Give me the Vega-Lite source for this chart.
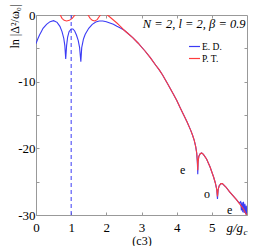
{
  "$schema": "https://vega.github.io/schema/vega-lite/v6.json",
  "autosize": "none",
  "width": 211,
  "height": 200,
  "padding": {"left": 36, "top": 15, "right": 26, "bottom": 31},
  "config": {
    "font": "Liberation Serif",
    "view": {"stroke": null},
    "axis": {"grid": false, "domainColor": "#999999", "tickColor": "#999999", "labelColor": "#000000", "labelFont": "Liberation Serif", "titleFont": "Liberation Serif", "titleFontWeight": "normal", "labelFontSize": 13, "titleFontSize": 12, "titleColor": "#000000", "tickSize": -3}
  },
  "datasets": {
    "curves": [
      {"s": "E. D.", "x": 0, "y": -4.3}, {"s": "E. D.", "x": 0.05, "y": -3.6}, {"s": "E. D.", "x": 0.1, "y": -3.0}, {"s": "E. D.", "x": 0.15, "y": -2.5}, {"s": "E. D.", "x": 0.2, "y": -2.0}, {"s": "E. D.", "x": 0.3, "y": -1.4}, {"s": "E. D.", "x": 0.4, "y": -1.0}, {"s": "E. D.", "x": 0.5, "y": -0.85}, {"s": "E. D.", "x": 0.6, "y": -1.1}, {"s": "E. D.", "x": 0.68, "y": -1.7}, {"s": "E. D.", "x": 0.74, "y": -2.5}, {"s": "E. D.", "x": 0.79, "y": -3.5}, {"s": "E. D.", "x": 0.82, "y": -4.6}, {"s": "E. D.", "x": 0.845, "y": -6.6}, {"s": "E. D.", "x": 0.87, "y": -4.6}, {"s": "E. D.", "x": 0.9, "y": -3.3}, {"s": "E. D.", "x": 0.94, "y": -2.5}, {"s": "E. D.", "x": 1.0, "y": -2.1}, {"s": "E. D.", "x": 1.05, "y": -2.1}, {"s": "E. D.", "x": 1.1, "y": -2.4}, {"s": "E. D.", "x": 1.15, "y": -3.0}, {"s": "E. D.", "x": 1.2, "y": -3.8}, {"s": "E. D.", "x": 1.24, "y": -4.9}, {"s": "E. D.", "x": 1.275, "y": -7.0}, {"s": "E. D.", "x": 1.3, "y": -4.9}, {"s": "E. D.", "x": 1.35, "y": -3.6}, {"s": "E. D.", "x": 1.4, "y": -2.9}, {"s": "E. D.", "x": 1.5, "y": -2.0}, {"s": "E. D.", "x": 1.6, "y": -1.4}, {"s": "E. D.", "x": 1.7, "y": -1.05}, {"s": "E. D.", "x": 1.8, "y": -0.9}, {"s": "E. D.", "x": 1.9, "y": -0.9}, {"s": "E. D.", "x": 2.0, "y": -1.0}, {"s": "E. D.", "x": 2.1, "y": -1.2}, {"s": "E. D.", "x": 2.2, "y": -1.4}, {"s": "E. D.", "x": 2.3, "y": -1.7}, {"s": "E. D.", "x": 2.4, "y": -1.95},
      {"s": "E. D.", "x": 2.5, "y": -2.25}, {"s": "E. D.", "x": 2.6, "y": -2.7}, {"s": "E. D.", "x": 2.75, "y": -3.4}, {"s": "E. D.", "x": 2.9, "y": -4.2}, {"s": "E. D.", "x": 3.0, "y": -4.8}, {"s": "E. D.", "x": 3.1, "y": -5.4}, {"s": "E. D.", "x": 3.25, "y": -6.4}, {"s": "E. D.", "x": 3.4, "y": -7.5}, {"s": "E. D.", "x": 3.5, "y": -8.2}, {"s": "E. D.", "x": 3.6, "y": -9.0}, {"s": "E. D.", "x": 3.75, "y": -10.4}, {"s": "E. D.", "x": 3.9, "y": -11.8}, {"s": "E. D.", "x": 4.0, "y": -12.8}, {"s": "E. D.", "x": 4.1, "y": -13.9}, {"s": "E. D.", "x": 4.2, "y": -15.0}, {"s": "E. D.", "x": 4.3, "y": -16.1}, {"s": "E. D.", "x": 4.4, "y": -17.3}, {"s": "E. D.", "x": 4.45, "y": -18.0}, {"s": "E. D.", "x": 4.5, "y": -18.8}, {"s": "E. D.", "x": 4.54, "y": -19.7}, {"s": "E. D.", "x": 4.57, "y": -20.7}, {"s": "E. D.", "x": 4.59, "y": -22.3}, {"s": "E. D.", "x": 4.6, "y": -23.9}, {"s": "E. D.", "x": 4.61, "y": -22.0}, {"s": "E. D.", "x": 4.63, "y": -21.2}, {"s": "E. D.", "x": 4.67, "y": -20.8}, {"s": "E. D.", "x": 4.71, "y": -20.7}, {"s": "E. D.", "x": 4.76, "y": -20.9}, {"s": "E. D.", "x": 4.85, "y": -21.6}, {"s": "E. D.", "x": 4.95, "y": -22.8}, {"s": "E. D.", "x": 5.05, "y": -24.3}, {"s": "E. D.", "x": 5.1, "y": -25.2}, {"s": "E. D.", "x": 5.14, "y": -26.2}, {"s": "E. D.", "x": 5.16, "y": -27.6}, {"s": "E. D.", "x": 5.18, "y": -26.2}, {"s": "E. D.", "x": 5.21, "y": -25.6}, {"s": "E. D.", "x": 5.26, "y": -25.3}, {"s": "E. D.", "x": 5.3, "y": -25.3}, {"s": "E. D.", "x": 5.4, "y": -25.8}, {"s": "E. D.", "x": 5.5, "y": -26.5}, {"s": "E. D.", "x": 5.6, "y": -27.1}, {"s": "E. D.", "x": 5.7, "y": -27.7}, {"s": "E. D.", "x": 5.78, "y": -28.2}, {"s": "E. D.", "x": 5.82, "y": -28.0}, {"s": "E. D.", "x": 5.84, "y": -29.3}, {"s": "E. D.", "x": 5.86, "y": -28.1}, {"s": "E. D.", "x": 5.88, "y": -29.6}, {"s": "E. D.", "x": 5.9, "y": -28.0}, {"s": "E. D.", "x": 5.92, "y": -29.7}, {"s": "E. D.", "x": 5.94, "y": -28.3}, {"s": "E. D.", "x": 5.96, "y": -29.9}, {"s": "E. D.", "x": 5.98, "y": -28.6}, {"s": "E. D.", "x": 6.0, "y": -30.2},
      {"s": "P. T.", "x": 0.55, "y": 1.5}, {"s": "P. T.", "x": 0.69, "y": 0}, {"s": "P. T.", "x": 0.74, "y": -0.5}, {"s": "P. T.", "x": 0.8, "y": -0.8}, {"s": "P. T.", "x": 0.87, "y": -0.9}, {"s": "P. T.", "x": 0.95, "y": -0.8}, {"s": "P. T.", "x": 1.03, "y": -0.5}, {"s": "P. T.", "x": 1.11, "y": 0}, {"s": "P. T.", "x": 1.3, "y": 1.2}, {"s": "P. T.", "x": 1.48, "y": 0}, {"s": "P. T.", "x": 1.54, "y": -0.5}, {"s": "P. T.", "x": 1.6, "y": -0.8}, {"s": "P. T.", "x": 1.67, "y": -0.9}, {"s": "P. T.", "x": 1.74, "y": -0.7}, {"s": "P. T.", "x": 1.83, "y": 0}, {"s": "P. T.", "x": 1.93, "y": 0.4}, {"s": "P. T.", "x": 2.03, "y": 0}, {"s": "P. T.", "x": 2.1, "y": -0.3}, {"s": "P. T.", "x": 2.2, "y": -0.75}, {"s": "P. T.", "x": 2.3, "y": -1.2}, {"s": "P. T.", "x": 2.4, "y": -1.7},
      {"s": "P. T.", "x": 2.5, "y": -2.25}, {"s": "P. T.", "x": 2.6, "y": -2.7}, {"s": "P. T.", "x": 2.75, "y": -3.4}, {"s": "P. T.", "x": 2.9, "y": -4.2}, {"s": "P. T.", "x": 3.0, "y": -4.8}, {"s": "P. T.", "x": 3.1, "y": -5.4}, {"s": "P. T.", "x": 3.25, "y": -6.4}, {"s": "P. T.", "x": 3.4, "y": -7.5}, {"s": "P. T.", "x": 3.5, "y": -8.2}, {"s": "P. T.", "x": 3.6, "y": -9.0}, {"s": "P. T.", "x": 3.75, "y": -10.4}, {"s": "P. T.", "x": 3.9, "y": -11.8}, {"s": "P. T.", "x": 4.0, "y": -12.8}, {"s": "P. T.", "x": 4.1, "y": -13.9}, {"s": "P. T.", "x": 4.2, "y": -15.0}, {"s": "P. T.", "x": 4.3, "y": -16.1}, {"s": "P. T.", "x": 4.4, "y": -17.3}, {"s": "P. T.", "x": 4.45, "y": -18.0}, {"s": "P. T.", "x": 4.5, "y": -18.8}, {"s": "P. T.", "x": 4.54, "y": -19.7}, {"s": "P. T.", "x": 4.57, "y": -20.7}, {"s": "P. T.", "x": 4.59, "y": -22.0}, {"s": "P. T.", "x": 4.6, "y": -23.3}, {"s": "P. T.", "x": 4.61, "y": -22.0}, {"s": "P. T.", "x": 4.63, "y": -21.2}, {"s": "P. T.", "x": 4.67, "y": -20.8}, {"s": "P. T.", "x": 4.71, "y": -20.7}, {"s": "P. T.", "x": 4.76, "y": -20.9}, {"s": "P. T.", "x": 4.85, "y": -21.6}, {"s": "P. T.", "x": 4.95, "y": -22.8}, {"s": "P. T.", "x": 5.05, "y": -24.3}, {"s": "P. T.", "x": 5.1, "y": -25.2}, {"s": "P. T.", "x": 5.14, "y": -26.2}, {"s": "P. T.", "x": 5.16, "y": -27.2}, {"s": "P. T.", "x": 5.18, "y": -26.2}, {"s": "P. T.", "x": 5.21, "y": -25.6}, {"s": "P. T.", "x": 5.26, "y": -25.3}, {"s": "P. T.", "x": 5.3, "y": -25.3}, {"s": "P. T.", "x": 5.4, "y": -25.8}, {"s": "P. T.", "x": 5.5, "y": -26.5}, {"s": "P. T.", "x": 5.6, "y": -27.1}, {"s": "P. T.", "x": 5.7, "y": -27.7}, {"s": "P. T.", "x": 5.8, "y": -28.4}, {"s": "P. T.", "x": 5.9, "y": -29.1}, {"s": "P. T.", "x": 5.97, "y": -29.8}, {"s": "P. T.", "x": 6.0, "y": -30.2}
    ],
    "marks": [
      {"t": "e", "x": 4.17, "y": -23.3},
      {"t": "o", "x": 4.86, "y": -26.9},
      {"t": "e", "x": 5.51, "y": -29.3}
    ]
  },
  "resolve": {"axis": {"x": "independent", "y": "independent"}},
  "layer": [
    {
      "data": {"values": [{"x": 1, "y1": -30, "y2": 0}]},
      "mark": {"type": "rule", "strokeDash": [4, 3], "color": "#3b3bf5", "strokeWidth": 1},
      "encoding": {
        "x": {"field": "x", "type": "quantitative", "scale": {"domain": [0, 6], "nice": false, "zero": false},
          "axis": {"values": [0, 1, 2, 3, 4, 5, 6], "labelExpr": "datum.value == 6 ? '' : datum.label", "title": "(c3)", "labelPadding": 9, "titlePadding": 1, "labelFlush": false}},
        "y": {"field": "y1", "type": "quantitative", "scale": {"domain": [-30, 0], "nice": false, "zero": false},
          "axis": {"values": [-30, -25, -20, -15, -10, -5, 0], "labelExpr": "datum.value % 10 != 0 ? '' : (datum.value == 0 ? '0' : '-' + abs(datum.value))", "labelPadding": 4, "labelFlush": false,
            "title": "ln |Δ²/ω₀|", "titleAngle": -90, "titleX": -22, "titleY": 33, "titleAlign": "left", "titleBaseline": "middle", "titleFontSize": 12}},
        "y2": {"field": "y2"}
      }
    },
    {
      "data": {"name": "curves"},
      "mark": {"type": "line", "clip": true, "strokeWidth": 1.1},
      "encoding": {
        "x": {"field": "x", "type": "quantitative", "axis": null},
        "y": {"field": "y", "type": "quantitative", "axis": null},
        "color": {"field": "s", "type": "nominal", "scale": {"domain": ["E. D.", "P. T."], "range": ["#3b3bf5", "#ff3c3c"]},
          "legend": {"orient": "none", "legendX": 152, "legendY": 25, "title": null, "symbolType": "stroke", "symbolSize": 120, "symbolStrokeWidth": 1.2, "labelFontSize": 9.5, "labelFont": "Liberation Serif", "rowPadding": 1, "symbolOffset": 0, "labelOffset": 1, "padding": 0}},
        "order": {"field": "s"}
      }
    },
    {
      "data": {"name": "marks"},
      "mark": {"type": "text", "font": "Liberation Serif", "fontSize": 12, "baseline": "middle", "align": "center"},
      "encoding": {
        "x": {"field": "x", "type": "quantitative", "axis": {"orient": "top", "values": [1, 2, 3, 4, 5], "labels": false, "title": null, "domain": true}},
        "y": {"field": "y", "type": "quantitative", "axis": {"orient": "right", "values": [-25, -20, -15, -10, -5], "labels": false, "title": null, "domain": true}},
        "text": {"field": "t"}
      }
    },
    {
      "data": {"values": [{"t": "N = 2, l = 2, β = 0.9", "x": 5.96, "y": -1.35}]},
      "mark": {"type": "text", "font": "Liberation Serif", "fontSize": 12.5, "fontStyle": "italic", "baseline": "middle", "align": "right"},
      "encoding": {"x": {"field": "x", "type": "quantitative", "axis": null}, "y": {"field": "y", "type": "quantitative", "axis": null}, "text": {"field": "t"}}
    },
    {
      "data": {"values": [{"t": "g/g", "x": 5.89, "y": -32.0}]},
      "mark": {"type": "text", "font": "Liberation Serif", "fontStyle": "italic", "fontSize": 13, "baseline": "middle", "align": "right", "clip": false},
      "encoding": {"x": {"field": "x", "type": "quantitative", "axis": null}, "y": {"field": "y", "type": "quantitative", "axis": null}, "text": {"field": "t"}}
    },
    {
      "data": {"values": [{"t": "c", "x": 5.9, "y": -32.6}]},
      "mark": {"type": "text", "font": "Liberation Serif", "fontStyle": "italic", "fontSize": 9, "baseline": "middle", "align": "left", "clip": false},
      "encoding": {"x": {"field": "x", "type": "quantitative", "axis": null}, "y": {"field": "y", "type": "quantitative", "axis": null}, "text": {"field": "t"}}
    }
  ]
}
